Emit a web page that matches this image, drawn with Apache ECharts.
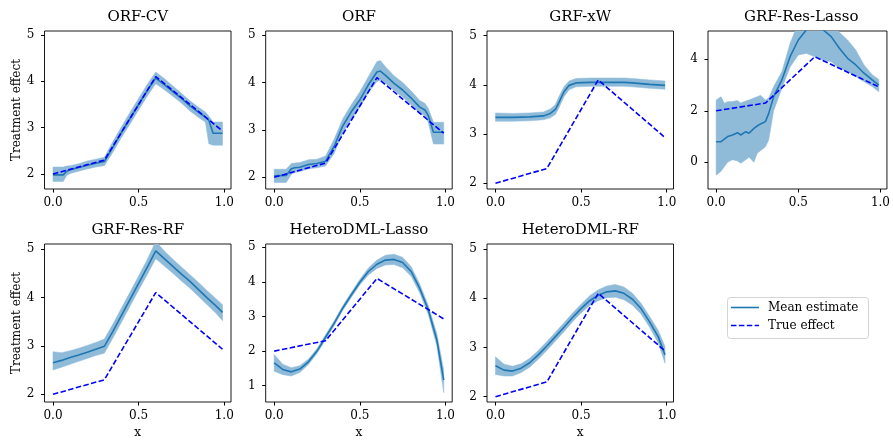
<!DOCTYPE html>
<html>
<head>
<meta charset="utf-8">
<script src="https://cdn.jsdelivr.net/npm/echarts@6/dist/echarts.min.js"></script>
<style>html,body{margin:0;padding:0;background:#fff}#c{width:893px;height:441px}</style>
</head>
<body>
<div id="c"></div>
<script>
// ---------- data ----------
const titles = ['ORF-CV', 'ORF', 'GRF-xW', 'GRF-Res-Lasso', 'GRF-Res-RF', 'HeteroDML-Lasso', 'HeteroDML-RF'];
const legendNames = ['Mean estimate', 'True effect'];
const xTicks = [0, 0.5, 1.0];

const trueX = [0, 0.3, 0.6, 0.99];
const trueY = [2.0, 2.3, 4.1, 2.93];

// ORF-CV
const x1 = [0, 0.06, 0.08, 0.1, 0.15, 0.2, 0.25, 0.3, 0.35, 0.4, 0.45, 0.5, 0.55, 0.6, 0.65, 0.7, 0.75, 0.8, 0.85, 0.89, 0.91, 0.935, 0.99];
const m1 = [1.98, 1.98, 2.06, 2.09, 2.14, 2.19, 2.23, 2.27, 2.58, 2.9, 3.2, 3.5, 3.8, 4.07, 3.93, 3.78, 3.63, 3.47, 3.33, 3.23, 3.16, 2.88, 2.88];
const lo1 = [1.84, 1.84, 1.97, 2.01, 2.06, 2.11, 2.15, 2.18, 2.47, 2.79, 3.08, 3.38, 3.68, 3.95, 3.82, 3.68, 3.53, 3.36, 3.22, 3.12, 2.65, 2.62, 2.62];
const hi1 = [2.15, 2.15, 2.17, 2.18, 2.22, 2.28, 2.32, 2.36, 2.7, 3.02, 3.33, 3.63, 3.93, 4.2, 4.06, 3.9, 3.74, 3.58, 3.44, 3.34, 3.25, 3.12, 3.12];
const yt1 = [2, 3, 4, 5];

// ORF
const x2 = [0, 0.07, 0.1, 0.12, 0.15, 0.2, 0.25, 0.3, 0.35, 0.4, 0.45, 0.5, 0.55, 0.6, 0.62, 0.65, 0.7, 0.75, 0.8, 0.85, 0.88, 0.9, 0.93, 0.99];
const m2 = [2.03, 2.04, 2.18, 2.2, 2.21, 2.27, 2.29, 2.34, 2.65, 3.08, 3.38, 3.63, 3.95, 4.22, 4.24, 4.15, 3.98, 3.84, 3.67, 3.48, 3.42, 3.3, 2.95, 2.95];
const lo2 = [1.89, 1.89, 2.06, 2.1, 2.12, 2.18, 2.2, 2.24, 2.5, 2.93, 3.22, 3.47, 3.78, 4.02, 4.04, 3.98, 3.83, 3.69, 3.53, 3.35, 3.3, 3.15, 2.7, 2.7];
const hi2 = [2.17, 2.17, 2.29, 2.3, 2.31, 2.37, 2.38, 2.45, 2.8, 3.23, 3.53, 3.8, 4.12, 4.44, 4.46, 4.33, 4.14, 4.0, 3.82, 3.62, 3.56, 3.45, 3.16, 3.16];
const yt2 = [2, 3, 4, 5];

// GRF-xW
const x3 = [0, 0.1, 0.2, 0.28, 0.32, 0.35, 0.37, 0.4, 0.43, 0.47, 0.55, 0.65, 0.75, 0.8, 0.9, 0.99];
const m3 = [3.34, 3.34, 3.35, 3.37, 3.42, 3.5, 3.64, 3.86, 3.99, 4.04, 4.05, 4.05, 4.05, 4.04, 4.01, 3.99];
const lo3 = [3.26, 3.26, 3.27, 3.29, 3.33, 3.4, 3.53, 3.76, 3.9, 3.96, 3.97, 3.97, 3.97, 3.96, 3.93, 3.91];
const hi3 = [3.43, 3.42, 3.43, 3.45, 3.51, 3.6, 3.76, 3.96, 4.08, 4.13, 4.14, 4.14, 4.14, 4.13, 4.1, 4.08];
const yt3 = [2, 3, 4, 5];

// GRF-Res-Lasso
const x4 = [0, 0.03, 0.05, 0.07, 0.1, 0.13, 0.15, 0.18, 0.2, 0.23, 0.25, 0.27, 0.3, 0.32, 0.35, 0.4, 0.45, 0.5, 0.55, 0.6, 0.65, 0.7, 0.75, 0.8, 0.85, 0.9, 0.95, 0.99];
const m4 = [0.8, 0.8, 0.9, 1.0, 1.06, 1.15, 1.06, 1.19, 1.13, 1.32, 1.41, 1.49, 1.58, 1.9, 2.55, 3.2, 4.1, 4.75, 5.15, 5.35, 5.15, 4.88, 4.43, 4.04, 3.78, 3.46, 3.2, 3.0];
const lo4 = [-0.5, -0.35, -0.17, 0.0, 0.1, 0.05, -0.04, 0.1, 0.2, 0.0, 0.35, 0.45, 0.6, 0.87, 2.0, 2.87, 3.7, 4.17, 4.23, 4.1, 3.97, 3.9, 3.65, 3.52, 3.33, 3.13, 2.94, 2.74];
const hi4 = [2.42, 2.55, 2.29, 2.35, 2.36, 2.4, 2.3, 2.38, 2.42, 2.5, 2.55, 2.6, 2.42, 2.5, 2.94, 3.52, 4.62, 5.4, 5.8, 6.0, 5.8, 5.5, 5.05, 4.75, 4.36, 3.78, 3.4, 3.22];
const yt4 = [0, 2, 4];

// shared x grid for the smooth panels
const xs = [0, 0.05, 0.1, 0.15, 0.2, 0.25, 0.3, 0.35, 0.4, 0.45, 0.5, 0.55, 0.6, 0.65, 0.7, 0.75, 0.8, 0.85, 0.9, 0.95, 0.99];

// GRF-Res-RF
const m5 = [2.65, 2.7, 2.76, 2.81, 2.87, 2.93, 2.99, 3.3, 3.63, 3.96, 4.29, 4.62, 4.96, 4.8, 4.64, 4.48, 4.33, 4.16, 3.99, 3.83, 3.69];
const lo5 = [2.5, 2.56, 2.62, 2.68, 2.74, 2.8, 2.85, 3.16, 3.49, 3.82, 4.15, 4.47, 4.8, 4.65, 4.5, 4.34, 4.19, 4.02, 3.85, 3.68, 3.52];
const hi5 = [2.88, 2.86, 2.9, 2.95, 3.01, 3.07, 3.14, 3.45, 3.78, 4.11, 4.44, 4.78, 5.16, 4.96, 4.79, 4.63, 4.47, 4.31, 4.14, 3.98, 3.85];
const yt5 = [2, 3, 4, 5];

// HeteroDML-Lasso
const m6 = [1.66, 1.47, 1.4, 1.48, 1.69, 2.0, 2.4, 2.8, 3.24, 3.62, 3.99, 4.3, 4.51, 4.63, 4.65, 4.56, 4.3, 3.81, 3.19, 2.32, 1.16];
const lo6 = [1.42, 1.32, 1.28, 1.38, 1.61, 1.93, 2.33, 2.73, 3.17, 3.55, 3.91, 4.2, 4.39, 4.49, 4.5, 4.41, 4.16, 3.68, 3.06, 2.14, 0.8];
const hi6 = [1.9, 1.62, 1.52, 1.58, 1.77, 2.07, 2.47, 2.87, 3.31, 3.69, 4.07, 4.4, 4.63, 4.77, 4.8, 4.71, 4.44, 3.94, 3.32, 2.5, 1.45];
const yt6 = [1, 2, 3, 4, 5];

// HeteroDML-RF
const m7 = [2.63, 2.54, 2.52, 2.58, 2.69, 2.85, 3.03, 3.22, 3.41, 3.61, 3.79, 3.95, 4.06, 4.13, 4.15, 4.1, 3.98, 3.79, 3.52, 3.22, 2.85];
const lo7 = [2.45, 2.42, 2.42, 2.49, 2.6, 2.76, 2.94, 3.13, 3.32, 3.52, 3.7, 3.85, 3.95, 4.01, 4.02, 3.97, 3.86, 3.68, 3.41, 3.09, 2.68];
const hi7 = [2.81, 2.66, 2.62, 2.67, 2.78, 2.94, 3.12, 3.31, 3.5, 3.7, 3.88, 4.05, 4.17, 4.25, 4.28, 4.23, 4.1, 3.9, 3.63, 3.35, 3.02];
const yt7 = [2, 3, 4, 5];

const yMin = [1.676, 1.753, 1.884, -1.037, 1.841, 0.529, 1.892];
const yMax = [5.086, 5.084, 5.095, 5.099, 5.103, 5.095, 5.102];

// ---------- build ----------
const panels = [
  [x1, m1, lo1, hi1, yt1], [x2, m2, lo2, hi2, yt2], [x3, m3, lo3, hi3, yt3], [x4, m4, lo4, hi4, yt4],
  [xs, m5, lo5, hi5, yt5], [xs, m6, lo6, hi6, yt6], [xs, m7, lo7, hi7, yt7]
];
const FONT = '"DejaVu Serif", "Liberation Serif", serif';
const BLUE = '#1f77b4', TRUEC = '#0000ff', BAND = '#8fbbd9';
const DASH = [5.5, 2.4];
const lefts = [44.5, 265.7, 487, 708];
const tops = [31, 244];
const W = 186.5, H = 158;

const grids = [], xAxes = [], yAxes = [], series = [], graphics = [];
panels.forEach((p, i) => {
  const [px, pm, plo, phi, pyt] = p;
  const row = Math.floor(i / 4), col = i % 4;
  grids.push({left: lefts[col], top: tops[row], width: W, height: H, show: true,
    borderColor: '#000', borderWidth: 0.9, backgroundColor: 'transparent', containLabel: false});
  xAxes.push({type: 'value', gridIndex: i, min: -0.0495, max: 1.0395, position: 'bottom',
    axisLine: {show: false, onZero: false}, splitLine: {show: false},
    axisTick: {show: true, length: 3.5, lineStyle: {color: '#000', width: 1}, customValues: xTicks},
    axisLabel: {customValues: xTicks, formatter: v => v.toFixed(1), color: '#000', fontFamily: FONT, fontSize: 12, margin: 8},
    name: row === 1 ? 'x' : '', nameLocation: 'middle', nameGap: 25,
    nameTextStyle: {color: '#000', fontFamily: FONT, fontSize: 12}});
  yAxes.push({type: 'value', gridIndex: i, min: yMin[i], max: yMax[i], position: 'left',
    axisLine: {show: false, onZero: false}, splitLine: {show: false},
    axisTick: {show: true, length: 3.5, lineStyle: {color: '#000', width: 1}, customValues: pyt},
    axisLabel: {customValues: pyt, formatter: v => String(v), color: '#000', fontFamily: FONT, fontSize: 12, margin: 10},
    name: col === 0 ? 'Treatment effect' : '', nameLocation: 'middle', nameGap: 22,
    nameTextStyle: {color: '#000', fontFamily: FONT, fontSize: 12}});
  // confidence band: polygon through upper values then lower values, placed via the axes' scales
  series.push({type: 'custom', name: 'band' + i, xAxisIndex: i, yAxisIndex: i, silent: true, z: 1,
    data: px.map((x, k) => [x, plo[k], phi[k]]),
    encode: {x: 0, y: [1, 2]},
    renderItem: (params, api) => {
      if (params.dataIndex !== 0) return null;
      const pts = [];
      for (let k = 0; k < px.length; k++) pts.push(api.coord([px[k], phi[k]]));
      for (let k = px.length - 1; k >= 0; k--) pts.push(api.coord([px[k], plo[k]]));
      const cs = params.coordSys;
      return {type: 'polygon', shape: {points: pts}, style: {fill: BAND, stroke: BAND, lineWidth: 0.5},
        clipPath: {type: 'rect', shape: {x: cs.x, y: cs.y, width: cs.width, height: cs.height}}};
    }});
  series.push({type: 'line', name: legendNames[0], xAxisIndex: i, yAxisIndex: i,
    data: px.map((x, k) => [x, pm[k]]), symbol: 'none', color: BLUE,
    lineStyle: {color: BLUE, width: 1.6}, z: 2});
  series.push({type: 'line', name: legendNames[1], xAxisIndex: i, yAxisIndex: i,
    data: trueX.map((x, k) => [x, trueY[k]]), symbol: 'none', color: TRUEC,
    lineStyle: {color: TRUEC, width: 1.6, type: DASH}, z: 3});
  graphics.push({type: 'text', x: lefts[col] + W / 2, y: tops[row] - 13.5, silent: true,
    style: {text: titles[i], fill: '#000', font: '15px ' + FONT, textAlign: 'center', textVerticalAlign: 'middle'}});
});

// legend box (drawn as graphics so the dashed sample matches)
const LX = 727, LY = 297;
graphics.push({type: 'rect', silent: true, shape: {x: LX + 0.5, y: LY + 0.5, width: 141, height: 41, r: 3},
  style: {fill: '#fff', stroke: '#d4d4d4', lineWidth: 1}, z: 10});
graphics.push({type: 'line', silent: true, shape: {x1: LX + 4, y1: LY + 10.5, x2: LX + 32, y2: LY + 10.5},
  style: {stroke: BLUE, lineWidth: 1.6}, z: 11});
graphics.push({type: 'line', silent: true, shape: {x1: LX + 4, y1: LY + 28.5, x2: LX + 32, y2: LY + 28.5},
  style: {stroke: TRUEC, lineWidth: 1.6, lineDash: DASH}, z: 11});
graphics.push({type: 'text', silent: true, x: LX + 41, y: LY + 10.5, z: 11,
  style: {text: legendNames[0], fill: '#000', font: '12px ' + FONT, textVerticalAlign: 'middle'}});
graphics.push({type: 'text', silent: true, x: LX + 41, y: LY + 28.5, z: 11,
  style: {text: legendNames[1], fill: '#000', font: '12px ' + FONT, textVerticalAlign: 'middle'}});

const chart = echarts.init(document.getElementById('c'));
chart.setOption({
  animation: false,
  backgroundColor: '#fff',
  grid: grids, xAxis: xAxes, yAxis: yAxes, series: series,
  graphic: graphics
});
</script>
</body>
</html>
